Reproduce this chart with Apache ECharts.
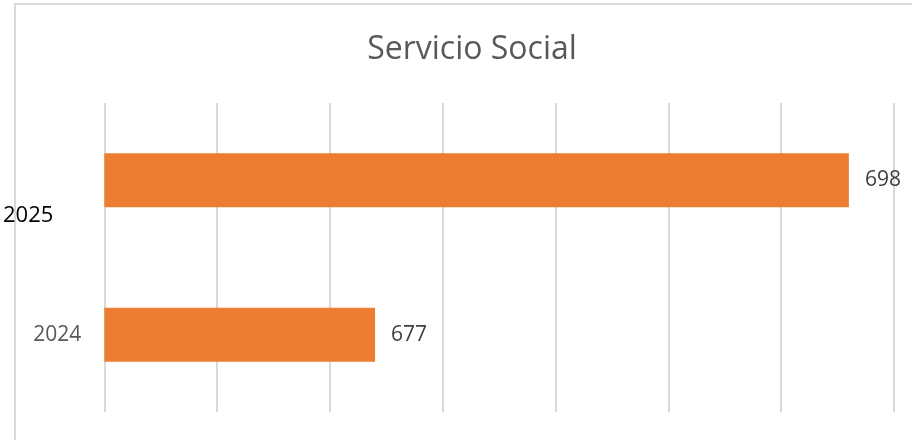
<!DOCTYPE html>
<html>
<head>
<meta charset="utf-8">
<script src="https://cdn.jsdelivr.net/npm/echarts@6/dist/echarts.min.js"></script>
<style>
html, body { margin: 0; padding: 0; background: #fff; }
#chart { width: 912px; height: 440px; }
</style>
</head>
<body>
<div id="chart"></div>
<script>
'use strict';
var years = ['2024', '2025'];
var values = [677, 698];
var axisMin = 665, axisMax = 700, axisStep = 5;

var font = "'Open Sans', 'Liberation Sans', sans-serif";
var chart = echarts.init(document.getElementById('chart'));

var option = {
    animation: false,
    backgroundColor: '#fff',
    title: {
        text: 'Servicio Social',
        left: 467,
        top: 29,
        textAlign: 'center',
        textStyle: { fontFamily: font, fontSize: 32, fontWeight: 'normal', color: '#595959' }
    },
    graphic: [{
        type: 'rect',
        shape: { x: 15, y: 4, width: 920, height: 460 },
        style: { fill: 'none', stroke: '#d9d9d9', lineWidth: 2 },
        silent: true
    }],
    grid: { left: 103, right: 18, top: 103, bottom: 28, containLabel: false },
    xAxis: {
        type: 'value',
        min: axisMin,
        max: axisMax,
        interval: axisStep,
        axisLabel: { show: false },
        axisLine: { show: false },
        axisTick: { show: false },
        splitLine: { show: true, lineStyle: { color: '#d9d9d9', width: 2 } }
    },
    yAxis: {
        type: 'category',
        data: years,
        axisLine: { show: false },
        axisTick: { show: false },
        axisLabel: {
            margin: 23,
            formatter: function (v) {
                return v === '2025' ? '{b|' + v + '}' : '{a|' + v + '}';
            },
            rich: {
                a: { fontFamily: font, fontSize: 21, color: '#595959' },
                b: { fontFamily: font, fontSize: 22, color: '#000', padding: [70, 28, 0, 0] }
            }
        }
    },
    series: [{
        type: 'bar',
        data: values,
        barWidth: '35%',
        itemStyle: { color: '#ed7d31' },
        label: {
            show: true,
            position: 'right',
            distance: 16,
            fontFamily: font,
            fontSize: 21,
            color: '#404040'
        }
    }]
};
chart.setOption(option);
</script>
</body>
</html>
